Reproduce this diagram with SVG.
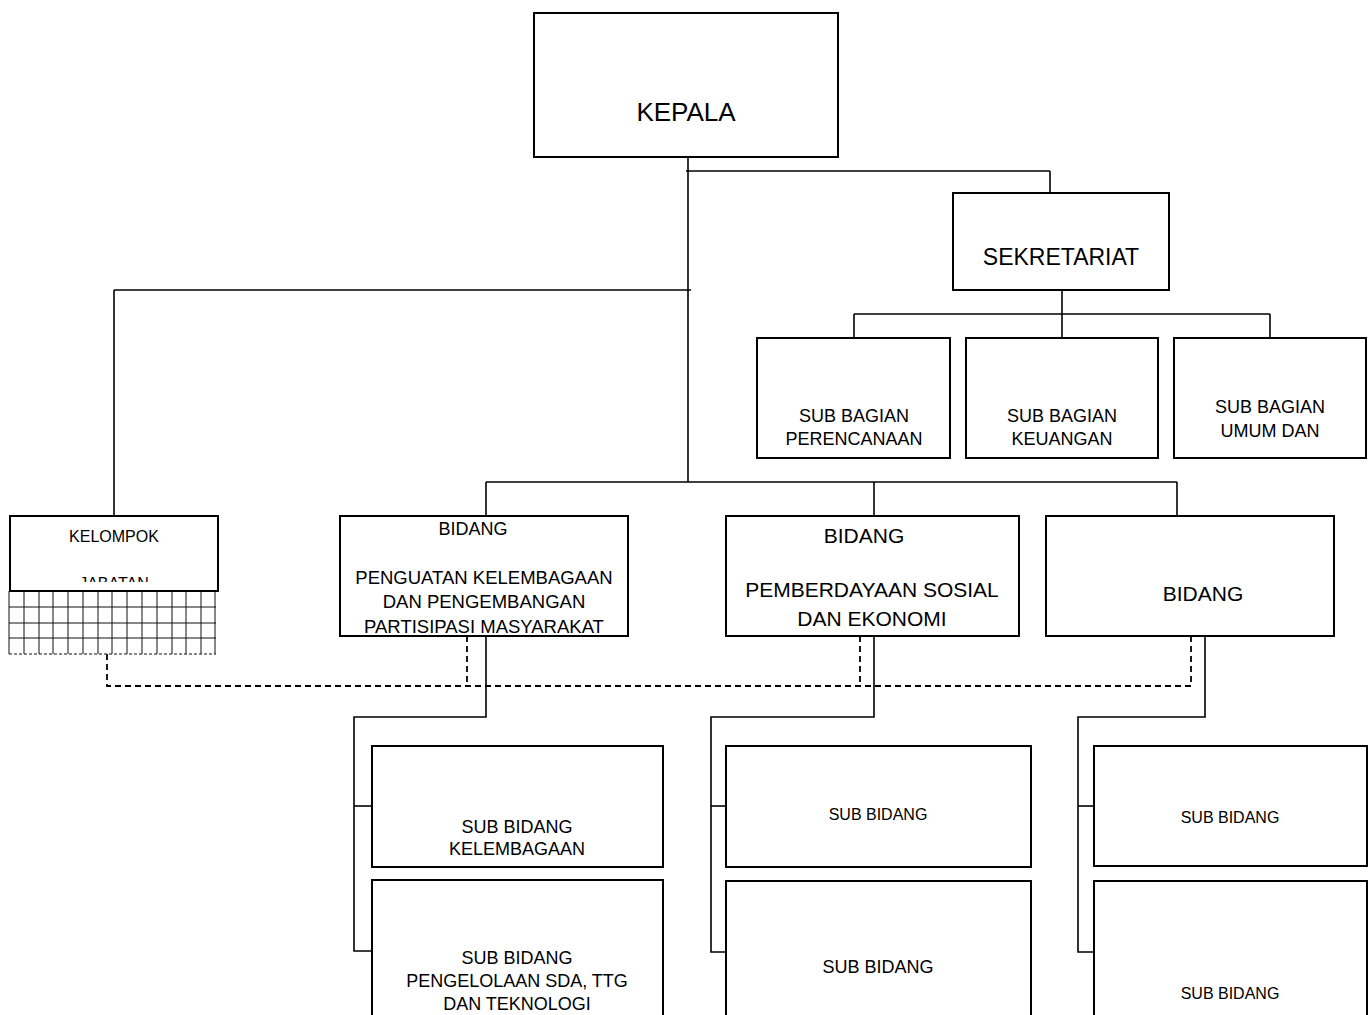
<svg xmlns="http://www.w3.org/2000/svg" width="1370" height="1015" viewBox="0 0 1370 1015">
<style>
.box{fill:#fff;stroke:#000;stroke-width:2}
.frame{fill:none;stroke:#000;stroke-width:2}
.t{font-family:"Liberation Sans",Arial,sans-serif;fill:#000;text-anchor:middle}
.ln{fill:none;stroke:#000;stroke-width:1.6}
.dash{fill:none;stroke:#000;stroke-width:1.8;stroke-dasharray:6 4}
.grid{stroke:#111;stroke-width:1}
</style>
<defs>
<clipPath id="cKel"><rect x="11" y="517" width="206" height="65"/></clipPath>
<clipPath id="cS11"><rect x="373" y="747" width="289" height="110"/></clipPath>
</defs>
<rect width="1370" height="1015" fill="#fff"/>
<g id="connectors">
<line class="ln" x1="688" y1="157" x2="688" y2="482"/>
<line class="ln" x1="686" y1="171" x2="1050" y2="171"/>
<line class="ln" x1="1050" y1="171" x2="1050" y2="193"/>
<line class="ln" x1="114" y1="290" x2="691" y2="290"/>
<line class="ln" x1="114" y1="290" x2="114" y2="516"/>
<line class="ln" x1="1062" y1="290" x2="1062" y2="338"/>
<line class="ln" x1="854" y1="314" x2="1270" y2="314"/>
<line class="ln" x1="854" y1="314" x2="854" y2="338"/>
<line class="ln" x1="1270" y1="314" x2="1270" y2="338"/>
<line class="ln" x1="486" y1="482" x2="1177" y2="482"/>
<line class="ln" x1="486" y1="482" x2="486" y2="516"/>
<line class="ln" x1="874" y1="482" x2="874" y2="516"/>
<line class="ln" x1="1177" y1="482" x2="1177" y2="516"/>
<polyline class="ln" points="486,636 486,717 354,717 354,951 372,951"/>
<line class="ln" x1="354" y1="806" x2="372" y2="806"/>
<polyline class="ln" points="874,636 874,717 711,717 711,952 726,952"/>
<line class="ln" x1="711" y1="806" x2="726" y2="806"/>
<polyline class="ln" points="1205,636 1205,717 1078,717 1078,952 1094,952"/>
<line class="ln" x1="1078" y1="806" x2="1094" y2="806"/>
<polyline class="dash" points="107,654 107,686 1191,686"/>
<line class="dash" x1="467" y1="636" x2="467" y2="686"/>
<line class="dash" x1="860" y1="636" x2="860" y2="686"/>
<line class="dash" x1="1191" y1="636" x2="1191" y2="686"/>
</g>
<g id="grid">
<line class="grid" x1="9" y1="591" x2="9" y2="654"/>
<line class="grid" x1="24" y1="591" x2="24" y2="654"/>
<line class="grid" x1="39" y1="591" x2="39" y2="654"/>
<line class="grid" x1="53" y1="591" x2="53" y2="654"/>
<line class="grid" x1="68" y1="591" x2="68" y2="654"/>
<line class="grid" x1="83" y1="591" x2="83" y2="654"/>
<line class="grid" x1="98" y1="591" x2="98" y2="654"/>
<line class="grid" x1="112" y1="591" x2="112" y2="654"/>
<line class="grid" x1="127" y1="591" x2="127" y2="654"/>
<line class="grid" x1="142" y1="591" x2="142" y2="654"/>
<line class="grid" x1="157" y1="591" x2="157" y2="654"/>
<line class="grid" x1="172" y1="591" x2="172" y2="654"/>
<line class="grid" x1="186" y1="591" x2="186" y2="654"/>
<line class="grid" x1="201" y1="591" x2="201" y2="654"/>
<line class="grid" x1="215" y1="591" x2="215" y2="654"/>
<line class="grid" x1="9" y1="607" x2="216" y2="607"/>
<line class="grid" x1="9" y1="623" x2="216" y2="623"/>
<line class="grid" x1="9" y1="638" x2="216" y2="638"/>
<line class="grid" x1="9" y1="654" x2="216" y2="654" stroke-dasharray="3 2"/>
</g>
<g id="kepala">
<rect class="box" x="534" y="13" width="304" height="144"/>
<text class="t" x="686" y="121" font-size="26">KEPALA</text>
</g>
<g id="sekretariat">
<rect class="box" x="953" y="193" width="216" height="97"/>
<text class="t" x="1061" y="265" font-size="23">SEKRETARIAT</text>
</g>
<g id="subbag-perencanaan">
<rect class="box" x="757" y="338" width="193" height="120"/>
<text class="t" x="854" y="422" font-size="18">SUB BAGIAN</text>
<text class="t" x="854" y="445" font-size="18">PERENCANAAN</text>
</g>
<g id="subbag-keuangan">
<rect class="box" x="966" y="338" width="192" height="120"/>
<text class="t" x="1062" y="422" font-size="18">SUB BAGIAN</text>
<text class="t" x="1062" y="445" font-size="18">KEUANGAN</text>
</g>
<g id="subbag-umum">
<rect class="box" x="1174" y="338" width="192" height="120"/>
<text class="t" x="1270" y="413" font-size="18">SUB BAGIAN</text>
<text class="t" x="1270" y="437" font-size="18">UMUM DAN</text>
</g>
<g id="kelompok">
<rect class="box" x="10" y="516" width="208" height="75"/>
<g clip-path="url(#cKel)">
<text class="t" x="114" y="542" font-size="16">KELOMPOK</text>
<text class="t" x="114" y="589" font-size="16">JABATAN</text>
</g>
</g>
<g id="bidang-1">
<rect class="box" x="340" y="516" width="288" height="120"/>
<text class="t" x="473" y="535" font-size="18">BIDANG</text>
<text class="t" x="484" y="584" font-size="18.5">PENGUATAN KELEMBAGAAN</text>
<text class="t" x="484" y="608" font-size="18.5">DAN PENGEMBANGAN</text>
<text class="t" x="484" y="633" font-size="18.5">PARTISIPASI MASYARAKAT</text>
<rect class="frame" x="340" y="516" width="288" height="120"/>
</g>
<g id="bidang-2">
<rect class="box" x="726" y="516" width="293" height="120"/>
<text class="t" x="864" y="543" font-size="21">BIDANG</text>
<text class="t" x="872" y="597" font-size="21">PEMBERDAYAAN SOSIAL</text>
<text class="t" x="872" y="626" font-size="21">DAN EKONOMI</text>
</g>
<g id="bidang-3">
<rect class="box" x="1046" y="516" width="288" height="120"/>
<text class="t" x="1203" y="601" font-size="21">BIDANG</text>
</g>
<g id="subbid-1-1">
<rect class="box" x="372" y="746" width="291" height="121"/>
<g clip-path="url(#cS11)">
<text class="t" x="517" y="833" font-size="18">SUB BIDANG</text>
<text class="t" x="517" y="855" font-size="18">KELEMBAGAAN</text>
</g>
</g>
<g id="subbid-1-2">
<rect class="box" x="372" y="880" width="291" height="140"/>
<text class="t" x="517" y="964" font-size="18">SUB BIDANG</text>
<text class="t" x="517" y="987" font-size="18">PENGELOLAAN SDA, TTG</text>
<text class="t" x="517" y="1010" font-size="18">DAN TEKNOLOGI</text>
</g>
<g id="subbid-2-1">
<rect class="box" x="726" y="746" width="305" height="121"/>
<text class="t" x="878" y="820" font-size="16">SUB BIDANG</text>
</g>
<g id="subbid-2-2">
<rect class="box" x="726" y="881" width="305" height="140"/>
<text class="t" x="878" y="973" font-size="18">SUB BIDANG</text>
</g>
<g id="subbid-3-1">
<rect class="box" x="1094" y="746" width="273" height="120"/>
<text class="t" x="1230" y="823" font-size="16">SUB BIDANG</text>
</g>
<g id="subbid-3-2">
<rect class="box" x="1094" y="881" width="273" height="140"/>
<text class="t" x="1230" y="999" font-size="16">SUB BIDANG</text>
</g>
</svg>
